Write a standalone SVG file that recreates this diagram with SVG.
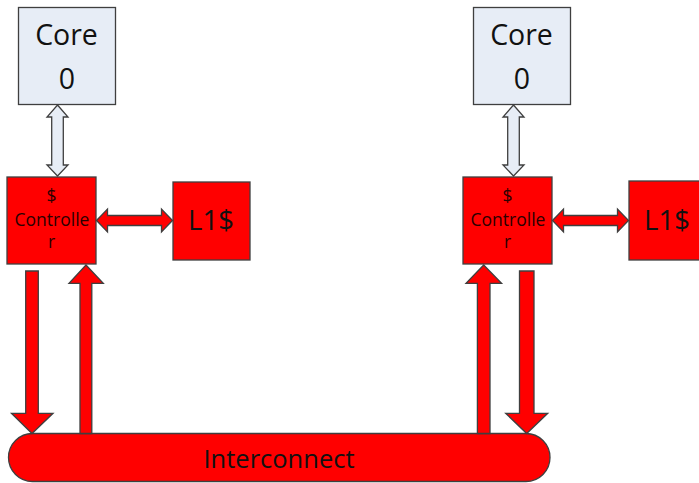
<svg xmlns="http://www.w3.org/2000/svg" width="699" height="483" viewBox="0 0 699 483">
  <style>
    .core { fill: #e7edf6; stroke: #3f3f3f; stroke-width: 1.3; }
    .red { fill: #ff0000; stroke: #3f3f3f; stroke-width: 1.3; }
    .hollow { fill: #e7edf6; stroke: #3f3f3f; stroke-width: 1.3; }
    .lbl { font-family: "Open Sans", "Liberation Sans", Arial, sans-serif; text-anchor: middle; fill: #111; }
    .big { font-size: 28.5px; }
    .mid { font-size: 27.5px; }
    .small { font-size: 17.5px; fill: #2a0000; }
    .bus { font-size: 25.5px; }
  </style>

  <!-- left tile -->
  <g id="core0-left">
    <rect class="core" x="18.5" y="7.5" width="97" height="97"/>
    <text class="lbl big" x="66.5" y="45">Core</text>
    <text class="lbl big" x="67" y="89">0</text>
  </g>
  <g id="ctrl-left">
    <rect class="red" x="7" y="177" width="89" height="87"/>
    <text class="lbl small" x="51.5" y="202">$</text>
    <text class="lbl small" x="52" y="226">Controlle</text>
    <text class="lbl small" x="51.5" y="248">r</text>
  </g>
  <g id="l1-left">
    <rect class="red" x="173" y="182" width="77" height="78"/>
    <text class="lbl mid" x="211" y="230">L1$</text>
  </g>

  <!-- right tile -->
  <g id="core0-right">
    <rect class="core" x="473.5" y="7.5" width="97" height="97"/>
    <text class="lbl big" x="521.5" y="45">Core</text>
    <text class="lbl big" x="522" y="89">0</text>
  </g>
  <g id="ctrl-right">
    <rect class="red" x="463" y="177" width="89" height="87"/>
    <text class="lbl small" x="507.5" y="202">$</text>
    <text class="lbl small" x="508" y="226">Controlle</text>
    <text class="lbl small" x="507.5" y="248">r</text>
  </g>
  <g id="l1-right">
    <rect class="red" x="629" y="181" width="80" height="79"/>
    <text class="lbl mid" x="667" y="230">L1$</text>
  </g>

  <!-- shared bus -->
  <g id="interconnect">
    <rect class="red" x="8.5" y="433.5" width="541.5" height="48" rx="24" ry="24"/>
    <text class="lbl bus" x="279" y="468">Interconnect</text>
  </g>

  <!-- block arrows -->
  <g id="connectors">
    <!-- core <-> controller -->
    <path class="hollow" d="M57.5,105 L68,117 L63.3,117 L63.3,165 L68,165 L57.5,176 L47,165 L51.7,165 L51.7,117 L47,117 Z"/>
    <path class="hollow" d="M513.5,105 L524,117 L519.3,117 L519.3,165 L524,165 L513.5,176 L503,165 L507.7,165 L507.7,117 L503,117 Z"/>

    <!-- controller <-> L1$ -->
    <path class="red" d="M96.5,220.5 L107.5,209 L107.5,215.5 L161.5,215.5 L161.5,209 L172.5,220.5 L161.5,232 L161.5,225.5 L107.5,225.5 L107.5,232 Z"/>
    <path class="red" d="M552.5,220.5 L563.5,209 L563.5,215.5 L617.5,215.5 L617.5,209 L628.5,220.5 L617.5,232 L617.5,225.5 L563.5,225.5 L563.5,232 Z"/>

    <!-- controller -> interconnect -->
    <path class="red" d="M25.7,271 L38.3,271 L38.3,413.3 L53,413.3 L32,433.5 L11.5,413.3 L25.7,413.3 Z"/>
    <path class="red" d="M519.5,271 L534,271 L534,413.3 L547.7,413.3 L526.7,433.5 L505.7,413.3 L519.5,413.3 Z"/>

    <!-- interconnect -> controller -->
    <path class="red" d="M80,433.5 L80,283.3 L69,283.3 L86,265 L103.3,283.3 L91.8,283.3 L91.8,433.5 Z"/>
    <path class="red" d="M477.4,433.5 L477.4,283.3 L466,283.3 L483.7,265 L501.6,283.3 L490,283.3 L490,433.5 Z"/>
  </g>
</svg>
